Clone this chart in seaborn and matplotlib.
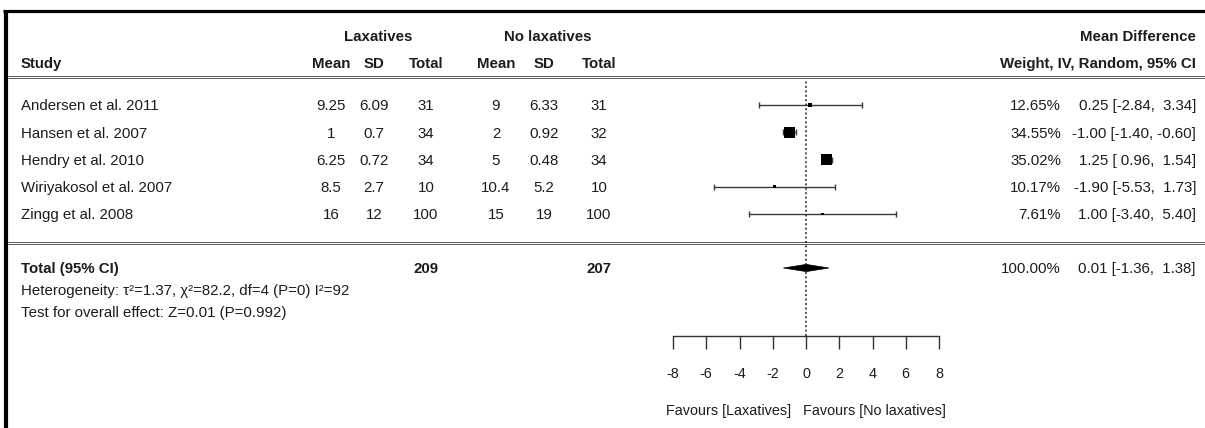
import matplotlib
matplotlib.use("Agg")
import matplotlib.pyplot as plt
import numpy as np
import pandas as pd
import seaborn as sns
from matplotlib.patches import Polygon

# ---- study data -------------------------------------------------------
studies = ["Andersen et al. 2011", "Hansen et al. 2007", "Hendry et al. 2010",
           "Wiriyakosol et al. 2007", "Zingg et al. 2008"]
lax_mean = [9.25, 1, 6.25, 8.5, 16]
lax_sd = [6.09, 0.7, 0.72, 2.7, 12]
lax_n = [31, 34, 34, 10, 100]
ctl_mean = [9, 2, 5, 10.4, 15]
ctl_sd = [6.33, 0.92, 0.48, 5.2, 19]
ctl_n = [31, 32, 34, 10, 100]
weight = [12.65, 34.55, 35.02, 10.17, 7.61]
md = [0.25, -1.00, 1.25, -1.90, 1.00]
md_lo = [-2.84, -1.40, 0.96, -5.53, -3.40]
md_hi = [3.34, -0.60, 1.54, 1.73, 5.40]

# pooled result
tot_lax_n, tot_ctl_n = 209, 207
tot_weight = 100.00
tot_md, tot_lo, tot_hi = 0.01, -1.36, 1.38
het_text = "Heterogeneity: \u03c4\u00b2=1.37, \u03c7\u00b2=82.2, df=4 (P=0) I\u00b2=92"
test_text = "Test for overall effect: Z=0.01 (P=0.992)"

x_ticks = [-8, -6, -4, -2, 0, 2, 4, 6, 8]
favours_text = "Favours [Laxatives]   Favours [No laxatives]"

# ---- style -------------------------------------------------------------
sns.set_style("white")
plt.rcParams["font.family"] = ["Liberation Sans", "DejaVu Sans"]
plt.rcParams["axes.unicode_minus"] = False
FS = 10.8        # table text
FS_AX = 10.4     # axis text
INK = "#1c1c1c"

W, H = 1205, 428
fig = plt.figure(figsize=(W / 100, H / 100), dpi=100)

# layout canvas (pixel-like units, y downwards)
tab = fig.add_axes([0, 0, 1, 1])
tab.set_xlim(0, W)
tab.set_ylim(H, 0)
tab.axis("off")


def put(x, y, s, ha="left", bold=False):
    tab.text(x, y + 5.4, s, ha=ha, va="baseline", fontsize=FS, color=INK,
             fontweight="bold" if bold else "normal")


# column anchors
X_STUDY = 21
X_LM, X_LS, X_LN = 331, 374, 426
X_CM, X_CS, X_CN = 496, 544, 599
X_W, X_CI = 1061, 1196

Y_H1, Y_H2 = 36, 63
row_y = [105 + 27.25 * i for i in range(len(studies))]
Y_TOT, Y_HET, Y_TEST = 268, 290, 312

# outer frame (top and left edges)
tab.plot([3, W], [11, 11], color="black", lw=2.3, solid_capstyle="butt")
tab.plot([5.5, 5.5], [9.5, H], color="black", lw=3.0, solid_capstyle="butt")

# header
put((X_LM + X_LN) / 2, Y_H1, "Laxatives", ha="center", bold=True)
put((X_CM + X_CN) / 2, Y_H1, "No laxatives", ha="center", bold=True)
put(X_CI, Y_H1, "Mean Difference", ha="right", bold=True)
put(X_STUDY, Y_H2, "Study", bold=True)
for x, s in [(X_LM, "Mean"), (X_LS, "SD"), (X_LN, "Total"),
             (X_CM, "Mean"), (X_CS, "SD"), (X_CN, "Total")]:
    put(x, Y_H2, s, ha="center", bold=True)
put(X_CI, Y_H2, "Weight, IV, Random, 95% CI", ha="right", bold=True)

# rule lines
for yy in (77, 243):
    for d in (-1.4, 1.4):
        tab.plot([8, W], [yy + d, yy + d], color="#5a5a5a", lw=0.7)


def effect_cells(y, w, est, lo, hi):
    put(X_W, y, f"{w:.2f}%", ha="right")
    put(X_CI, y, f"{est:.2f} [{lo:5.2f}, {hi:5.2f}]", ha="right")


# study rows
for i, name in enumerate(studies):
    y = row_y[i]
    put(X_STUDY, y, name)
    put(X_LM, y, f"{lax_mean[i]:g}", ha="center")
    put(X_LS, y, f"{lax_sd[i]:g}", ha="center")
    put(X_LN, y, f"{lax_n[i]:g}", ha="center")
    put(X_CM, y, f"{ctl_mean[i]:g}", ha="center")
    put(X_CS, y, f"{ctl_sd[i]:g}", ha="center")
    put(X_CN, y, f"{ctl_n[i]:g}", ha="center")
    effect_cells(y, weight[i], md[i], md_lo[i], md_hi[i])

# pooled row and notes
put(X_STUDY, Y_TOT, "Total (95% CI)", bold=True)
put(X_LN, Y_TOT, f"{tot_lax_n}", ha="center", bold=True)
put(X_CN, Y_TOT, f"{tot_ctl_n}", ha="center", bold=True)
effect_cells(Y_TOT, tot_weight, tot_md, tot_lo, tot_hi)
put(X_STUDY, Y_HET, het_text)
put(X_STUDY, Y_TEST, test_text)

# ---- forest panel --------------------------------------------------------
PX0, PX1, PY0, PY1 = 673, 939, 80, 336
fx = fig.add_axes([PX0 / W, 1 - PY1 / H, (PX1 - PX0) / W, (PY1 - PY0) / H])
fx.patch.set_alpha(0)
fx.set_xlim(x_ticks[0], x_ticks[-1])
fx.set_ylim(PY1, PY0)

df = pd.DataFrame({"md": md, "lo": md_lo, "hi": md_hi, "w": weight, "y": row_y})

# reference line at no effect
fx.axvline(0, color="#222222", lw=1.1, ls=(0, (1.3, 1.6)), zorder=1)

# confidence intervals
fx.errorbar(df["md"], df["y"], xerr=[df["md"] - df["lo"], df["hi"] - df["md"]],
            fmt="none", ecolor="#3a3a3a", elinewidth=1.0, capsize=2.0,
            capthick=1.0, zorder=2)

# weighted squares (side proportional to weight)
side_pt = 0.2268 * df["w"]
sns.scatterplot(data=df, x="md", y="y", marker="s", s=side_pt ** 2,
                color="black", linewidth=0, legend=False, ax=fx, zorder=3)

# pooled diamond
half_h = 3.6
fx.add_patch(Polygon([[tot_lo, Y_TOT], [tot_md, Y_TOT - half_h],
                      [tot_hi, Y_TOT], [tot_md, Y_TOT + half_h]],
                     closed=True, facecolor="black", edgecolor="black",
                     lw=0.5, zorder=3))

# axis styling
fx.set_xlabel("")
fx.set_ylabel("")
fx.set_yticks([])
fx.set_xticks(x_ticks)
fx.set_xticklabels([f"{t:g}" for t in x_ticks])
for side in ("top", "right", "left"):
    fx.spines[side].set_visible(False)
fx.spines["bottom"].set_bounds(x_ticks[0], x_ticks[-1])
fx.spines["bottom"].set_color("#333333")
fx.spines["bottom"].set_linewidth(1.0)
fx.tick_params(axis="x", bottom=True, direction="out", length=9.4, width=1.0,
               color="#333333", pad=13, labelsize=FS_AX, labelcolor=INK)

fx.text(0, 410 + 5.2, favours_text, ha="center", va="baseline",
        fontsize=FS_AX, color=INK)

fig.savefig("out.png", dpi=100)
